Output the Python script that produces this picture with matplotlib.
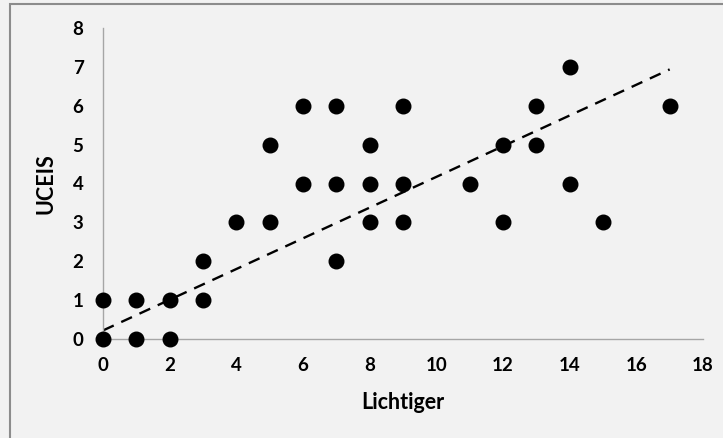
import numpy as np
import matplotlib.pyplot as plt
from matplotlib.patches import Rectangle

# Lichtiger score vs UCEIS
lichtiger = [0, 0, 1, 1, 2, 2, 3, 3, 4, 5, 5, 6, 6, 7, 7, 7, 8, 8, 8,
             9, 9, 9, 11, 12, 12, 13, 13, 14, 14, 15, 17]
uceis = [0, 1, 0, 1, 0, 1, 1, 2, 3, 3, 5, 4, 6, 2, 4, 6, 3, 4, 5,
         3, 4, 6, 4, 3, 5, 5, 6, 4, 7, 3, 6]
x_ticks = [0, 2, 4, 6, 8, 10, 12, 14, 16, 18]
y_ticks = [0, 1, 2, 3, 4, 5, 6, 7, 8]

# linear trend as drawn in the original (the
# source data probably has overlapping points we cannot see)
trend_intercept = 0.22
trend_slope = 0.395

bg = '#f2f2f2'
plt.rcParams['font.family'] = ['Lato', 'DejaVu Sans']
plt.rcParams['font.weight'] = 'bold'

fig = plt.figure(figsize=(7.23, 4.38), dpi=100, facecolor=bg)
ax = fig.add_axes([103 / 723, 1 - 339 / 438, 600 / 723, 311 / 438])
ax.set_facecolor(bg)

# outer frame (only left and top edges are visible in the original)
fig.patches.append(Rectangle((10 / 723, -0.1), 1.2, 1.1 - 4 / 438,
                             transform=fig.transFigure, fill=False,
                             edgecolor='#8c8c8c', lw=1.5, zorder=0))

ax.scatter(lichtiger, uceis, s=110, color='black', zorder=3, clip_on=False)

xs = np.array([min(lichtiger), max(lichtiger)])
ax.plot(xs, trend_intercept + trend_slope * xs, color='black', lw=1.7,
        ls=(0, (5, 3.5)), zorder=2)

ax.set_xlim(0, 18)
ax.set_ylim(0, 8)
ax.set_xticks(x_ticks, labels=[str(t) for t in x_ticks], fontweight='bold')
ax.set_yticks(y_ticks, labels=[str(t) for t in y_ticks], fontweight='bold')
ax.tick_params(length=0, labelsize=13.5)
ax.tick_params(axis='x', pad=13)
ax.tick_params(axis='y', pad=14)

for side in ['top', 'right']:
    ax.spines[side].set_visible(False)
for side in ['left', 'bottom']:
    ax.spines[side].set_color('#a6a6a6')
    ax.spines[side].set_linewidth(1)

ax.set_xlabel('Lichtiger', fontsize=15.5, fontweight='bold', labelpad=13)
ax.set_ylabel('UCEIS', fontsize=15.5, fontweight='bold', labelpad=12)

fig.savefig('out.png', dpi=100, facecolor=bg)
